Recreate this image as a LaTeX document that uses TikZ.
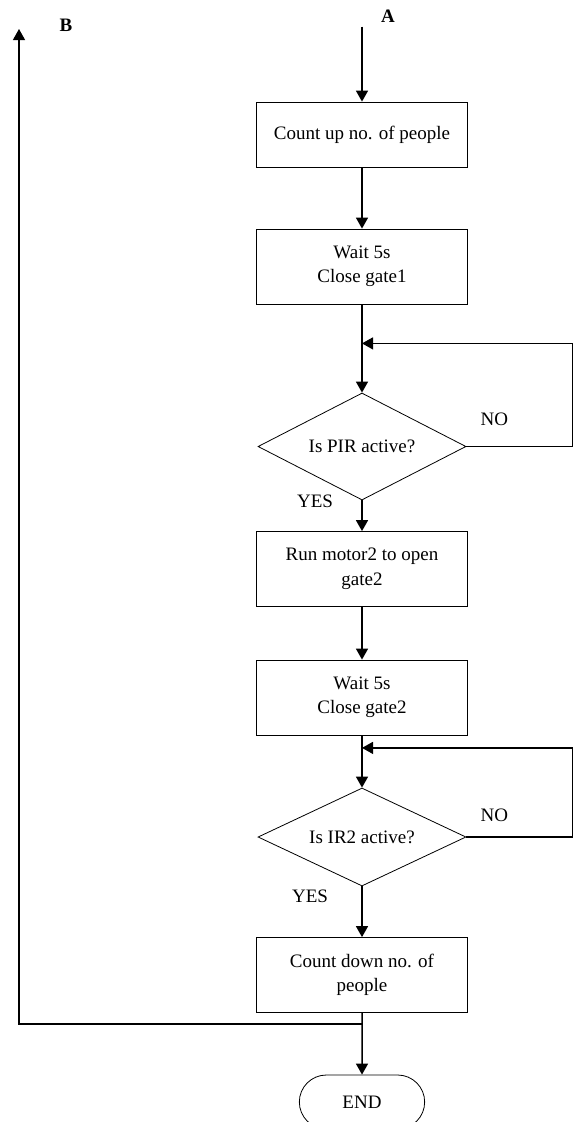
\documentclass[tikz,border=0pt]{standalone}
\usepackage{fontspec}
\setmainfont{Liberation Serif}
\usetikzlibrary{shapes.geometric, shapes.misc, arrows.meta}
\tikzstyle{startstop} = [rounded rectangle, minimum width=132pt, minimum height=54pt,text centered, draw=black, line width=0.8pt]
\tikzstyle{process} = [rectangle,
minimum width=211pt,
minimum height=75pt,
align=center,
draw=black,
line width=0.8pt]
\tikzstyle{decision} = [diamond,
shape aspect=2,
inner sep=0pt,
minimum width=208pt,
minimum height=107pt,
text centered,
draw=black,
line width=0.8pt]
\tikzstyle{tag} = [inner sep=0pt, font=\fontsize{19}{24.5}\selectfont\bfseries]
\tikzstyle{answer} = [inner sep=0pt]
\tikzstyle{arrow} = [line width=1.5pt,-{Triangle[length=11pt,width=12pt]}]
\tikzstyle{loopline} = [line width=1.2pt,-{Triangle[length=11pt,width=12pt]}]

\begin{document}
\begin{tikzpicture}[node distance=132pt, font=\fontsize{19}{24.5}\selectfont]
\useasboundingbox (0,0) rectangle (575pt,-1122pt);

\node (box1) [process, minimum height=65pt] at (362pt,-134.5pt) {Count up no. of people};
\node (box2) [process, below of=box1] {Wait 5s\\Close gate1};
\node (dia1) [decision, node distance=180pt, below of=box2] {Is PIR active?};
\node (box3) [process, node distance=122.5pt, below of=dia1] {Run motor2 to open\\gate2};
\node (box4) [process, node distance=128.5pt, below of=box3] {Wait 5s\\Close gate2};
\node (dia2) [decision, minimum height=98pt, node distance=139.5pt, below of=box4] {Is IR2 active?};
\node (box5) [process, node distance=138pt, below of=dia2] {Count down no. of\\people};
\node (stop) [startstop, node distance=127pt, below of=box5] {END};

\coordinate (a) at ([yshift=75pt]box1.north);
\coordinate (j1) at ([yshift=-39pt]box2.south);
\coordinate (j2) at ([yshift=-12.5pt]box4.south);
\coordinate (j3) at ([yshift=-11pt]box5.south);
\coordinate (b) at (19pt,-29pt);

\node (labA) [tag] at ([xshift=26pt,yshift=10.5pt]a) {A};
\node (labB) [tag] at (66pt,-25pt) {B};
\node (no1) [answer] at ([xshift=28pt,yshift=27pt]dia1.east) {NO};
\node (yes1) [answer] at ([xshift=-47pt,yshift=-1pt]dia1.south) {YES};
\node (no2) [answer] at ([xshift=28pt,yshift=22pt]dia2.east) {NO};
\node (yes2) [answer] at ([xshift=-52pt,yshift=-10pt]dia2.south) {YES};

\draw [arrow] (a) -- (box1);
\draw [arrow] (box1) -- (box2);
\draw [arrow] (box2) -- (dia1);
\draw [loopline] (dia1.east) -- ++(106pt,0) |- (j1);
\draw [arrow] (dia1) -- (box3);
\draw [arrow] (box3) -- (box4);
\draw [arrow] (box4) -- (dia2);
\draw [loopline] (dia2.east) -- ++(106pt,0) |- (j2);
\draw [arrow] (dia2) -- (box5);
\draw [arrow] (box5) -- (stop);
\draw [loopline] (j3) -| (b);

\end{tikzpicture}
\end{document}
